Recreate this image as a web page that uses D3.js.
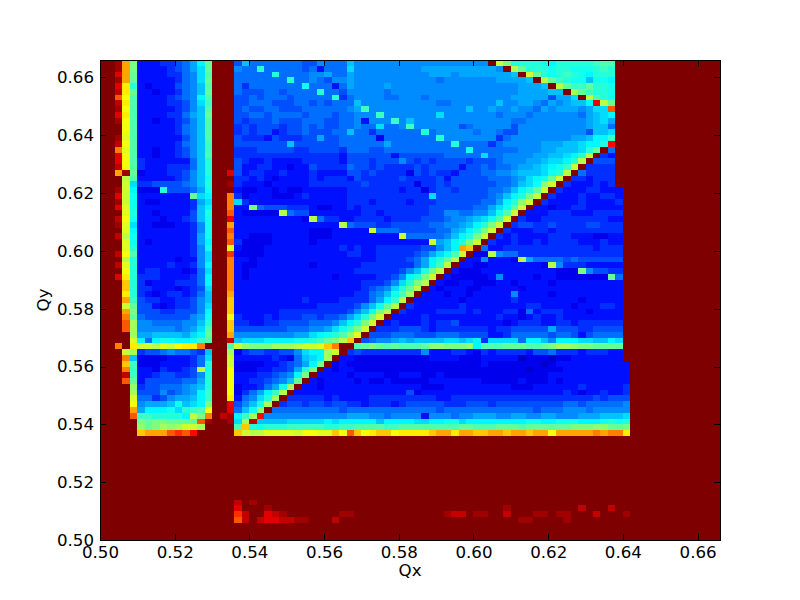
<!DOCTYPE html>
<html><head><meta charset="utf-8">
<script src="https://cdn.jsdelivr.net/npm/d3@7/dist/d3.min.js"></script>
<style>html,body{margin:0;padding:0;background:#fff}svg{display:block}</style>
</head><body><svg id="c" width="800" height="600"></svg>
<script>
const qxTicks=[0.50,0.52,0.54,0.56,0.58,0.60,0.62,0.64,0.66];
const qyTicks=[0.50,0.52,0.54,0.56,0.58,0.60,0.62,0.64,0.66];
const tuneLimits=[0.5,0.666];
const binWidth=0.002;
const jetStops=["#00007f","#0000ff","#007fff","#00ffff","#7fff7f","#ffff00","#ff7f00","#ff0000","#7f0000"];
const jetAt=[0,0.10,0.215,0.35,0.52,0.70,0.80,0.89,1];
// each row runs left to right, top row first; one base-36 digit per cell, 0 to z = 0 to 1
const qyRows=[
"zzyri44455679ch zzz 6a77777776 68777a8888 8888888888 8888zmieee edceeeeefg g",
"zzyri44445679bh zzz 877e777776 74777b8888 8888899999 999998zlhe eedeedddef e",
"zzwrh44445578bg zzz 77777e7777 8897798888 8888889998 9999999azm hedefedcee e",
"zzyrh44444578bh zzz 7777777e77 8768898888 8888888788 888889999a zlhfeddadd c",
"zzwpe43444678ag zzz 757777777d 7774798888 9888888888 8888888899 9azlhffhee d",
"zzxph44344578ah zzz 7666776777 7e77688888 7888888888 8888888899 99aazkhfee d",
"zztog44445678cg zzz 6676777677 777e578888 7788878888 8888888999 99699bzlge d",
"zzxpg44445568bf zzz 6677766677 676777a888 8888888778 88888a8899 87989aacwl h",
"zzyog44444568ag zzz 6766776667 7777789f88 8888888888 8a88988988 79899989bb t",
"zzwpg44445579ah zzz 6677677776 777677888f 8888888b88 8888878887 88888879ab c",
"zzyog44344568ag zzz 6566676667 7766778488 8f8a888888 8888888778 88888889ab 9",
"zzzog44444578ag zzz 5656665667 676677877b 778f888888 6788888688 88888889aa 7",
"zzzog44444578ag zzz 5656645667 66677a7757 77777e7888 8878876688 88888886aa b",
"zzyng44444468ag zzz 6555465556 6966777773 7777777e88 8888857888 8888899acc f",
"zzxog44444578af zzz 6666666a66 6666777777 977777777e 7777578888 8999aabcce v",
"zzsng44344568af zzz 5556666655 6666577766 7777777777 7d77777788 899aaabehz 7",
"zzwog44344568ag zzz 5555555555 5555466666 6466666677 777b778888 99aabcelz5 4",
"zzwog54444447ae zzz 6544544445 5555466656 6686565666 6566678889 9abbcelz66 6",
"zzxog54445557ae zzz 6445544344 6555576656 5555656666 4667677899 abcdfmz555 5",
"zzryh34445568ae zzw 6455445444 5444466565 5553656554 66677889aa abdelz7555 5",
"zzzlg44444568ad zzz 5545434444 5455546555 5565555646 666677789b cdhmz55455 5",
"zzzmb55666678ae zzy 5444344444 5555555655 5555355656 66666778ab djmz544454 5",
"zzymc333e66679d zzz 4334434334 4444455555 5545535665 6666778ace hmz5444554 44",
"zzwmd4444444hbc zzs 5344433345 4444455555 555555b666 666678acei mz54445445 54",
"zzymd433444459b zzs b544444444 4444455545 5554555666 666779cejm z544445444 45",
"zzwnd44444445ac zzs 44i7666555 4334454555 5555556666 66779bdhmz 4434455444 44",
"zzzne44344446ae zzt 433333l766 4444444554 5555556688 7788adgmz4 4455544455 55",
"zzxod4443445 6ad zzw 4444444443 l755445555 4555566678 89abdgmz54 4555555555 44",
"zzynb4433344 58d zzr 4444444444 4444l76665 5666667788 9aceimz566 5565555665 55",
"zzznc4444444 58d zzt 4444444444 33344444m7 7766666779 aceimz5444 5545555555 55",
"zzxld4444444 59d zzs 4433344444 3334444444 44m777778a ceimz54544 4455544433 44",
"zzznd4344444 59c zzt 5333344444 3444444444 444444m9ac eimz544544 5455554445 44",
"zzzne4444444 58d zzn 4333444444 4444545445 5555566 8ac rqz7445555 5555555545 55",
"zzxog4444444 58b zzu 3333444444 4444455445 5555679bdg mz33l87755 5555555555 55",
"zzzle4444434 48b zzs 4434444444 4444444445 555679cehl z4484443l9 7777676666 66",
"zzxne4444544 58c zzs 4334444444 3444444555 555579cflz 4433444444 43l8555444 44",
"zzzoe4554443 47b zzs 4344444444 4444445555 5568aeilz4 3334444444 444333i866 55",
"zzwpe5554444 57c zzs 4344444444 4443444445 568ceimz43 3333484444 3443333333 h7",
"zzzqe5344455 57c zzs 4444444444 4444444555 68beilz433 4433344344 4434444444 44",
"zzzqe5544434 56b zzs 4444444444 4444444567 8behlz4344 4334444434 4444444444 44",
"zzzpe5434554 57a zzr 4444444444 4444445578 adgkz44434 4344444844 4434444444 44",
"zzzrf6554455 68a zzq 4444444445 4444555579 cflz444444 3444444544 4444443444 44",
"zzzmh6643455 68b zzq 4444444444 45555568ad hlz5444444 5444444445 5444434445 54",
"zzzri6665566 68c zzq 4444445555 5555568adi lz54444555 5454445537 4555444344 44",
"zzzsh7666666 89d zzo 5444545556 656679beim z444454444 4444454434 5445444444 44",
"zzztk8877778 8ae zzq 5544556666 7778aceimz 4544454556 4444443455 5445545555 55",
"zzztk8888878 9bg zzq 6666666777 889bdfimz5 5566654555 5555455666 6696665566 66",
"zzzzk99aaaa9 bch zzr 8888888899 bcdegjnz66 6777666777 6666445777 7767764677 77",
"zzzznc7cddccdfg zzx abbbccccdd efhilqz678 89a9aaaabb abc5bbbb7c ca8cccbbaa cb",
"zzszpmmlnmoppsz zzg mjiiikkklm mnqszzghih ghggghjjii ijcggghhhg ghikkjiihh hh",
"zzzmk5667877 65a zzk 356655668b cckmz56555 5555584445 5435455554 6675554555 44",
"zzzsa3333444 57b zzm 444445437a bckz443333 3333334444 3334444423 3323344444 44",
"zzzqf3334444 57e zzm 3333445679 ciz3433333 3333333333 3334333333 3234444444 444",
"zzzsf4435445 6ld zzo 333445569e iz43443333 3333333333 3333333332 3333444444 444",
"zzzxf4456655 68e zzo 44455678ci z444434444 3344433433 3333333333 3344444444 444",
"zzzth4666667 79e zzo 4455678ahz 4344443433 4333334444 4443333343 3343444444 444",
"zzzzj5667778 9ae zzo 344579dkz4 4344444444 4444433344 4444444333 4444445444 445",
"zzzzk6668678 9cf zzo 3579cflz44 4444444444 4446344444 4444444444 4444543445 445",
"zzzzn7756899 acf zzp 478bekz555 5545444455 5555555445 5555555555 5555555565 666",
"zzzzo8999adabci zzw 68adkz5665 6656655455 5456666655 5666566666 6666776777 778",
"zzzzr9cccdbefgo zzw 7adjz77777 7777677777 7777777677 7777777777 6777888788 888",
"zzzztffeeeeclis zxy cfkv888888 8888899988 7888848887 8899988998 899888999a aab",
"zzzzzihiihhhhty zzy bkxaaaabbb bbcbccccca ccccbbccdd bccccccccd dccdddcccd ede",
"zzzzzjhikjkmmkz zzz gqedeeefff ffeeffgggg ffgggggggg hhggghhhgh hhhhhiiijj hhi",
"zzzzzqrrrtutvzz zzz qmllnnnnmo onnqotqopq qoppppqrrp rrqqrrqrrq rrorrrrrsr ssp",
"","","","","","","","","","","",
"zzzzzzzzzzzzzzz zzz xzyzzzzzzz",
"zzzzzzzzzzzzzzz zzz wzzzyzzzzz zzzzzzzzzz zzzzzzzzzz zzzzzzyzzz zzzzzzxzzz xzz",
"zzzzzzzzzzzzzzz zzz uxzzwxyzzz zzzzyyzzzz zzzzzzzzyx xzyyzzxzzz yyzyyzzzxz zzy",
"zzzzzzzzzzzzzzz zzz txzxwwxxyy zzzxzzzzzz zzzzzzzzzz zzzzzzzzyy zzzzyzzzzz",
"","",""
];
const xLabel="Qx", yLabel="Qy";

const svg=d3.select("#c");
const x=d3.scaleLinear().domain(tuneLimits).range([100,720]);
const y=d3.scaleLinear().domain(tuneLimits).range([540,60]);
const jet=d3.scaleLinear().domain(jetAt).range(jetStops).interpolate(d3.interpolateRgb).clamp(true);
const nRows=qyRows.length;
const cells=[];
qyRows.forEach((row,j)=>{
  const s=row.replace(/ /g,"").padEnd(nRows,"z");
  for(let i=0;i<nRows;i++){
    cells.push({qx:tuneLimits[0]+i*binWidth,qy:tuneLimits[0]+(nRows-1-j)*binWidth,v:parseInt(s[i],36)/35});
  }
});
svg.append("g").attr("shape-rendering","crispEdges").selectAll("rect").data(cells).join("rect")
  .attr("x",d=>x(d.qx)).attr("y",d=>y(d.qy+binWidth))
  .attr("width",d=>x(d.qx+binWidth)-x(d.qx)+0.5).attr("height",d=>y(d.qy)-y(d.qy+binWidth)+0.5)
  .attr("fill",d=>jet(d.v));
svg.append("rect").attr("x",100.5).attr("y",60.5).attr("width",620).attr("height",480)
  .attr("fill","none").attr("stroke","#000").attr("stroke-width",1);
const fs="16.67px";
const font="'DejaVu Sans'";
function style(g,labels){
  g.select(".domain").remove();
  g.selectAll(".tick line").attr("stroke","#000").attr("stroke-width",1).attr("shape-rendering","crispEdges");
  g.selectAll("text").attr("font-family",font).attr("font-size",fs).attr("fill","#000");
  if(!labels) g.selectAll("text").remove();
}
const fmt=d3.format(".2f");
svg.append("g").attr("transform","translate(0,540)")
  .call(d3.axisBottom(x).tickValues(qxTicks).tickFormat(fmt).tickSizeInner(-6).tickPadding(6)).call(g=>style(g,true));
svg.append("g").attr("transform","translate(0,60)")
  .call(d3.axisTop(x).tickValues(qxTicks).tickSizeInner(-6)).call(g=>style(g,false));
svg.append("g").attr("transform","translate(100,0)")
  .call(d3.axisLeft(y).tickValues(qyTicks).tickFormat(fmt).tickSizeInner(-6).tickPadding(6)).call(g=>style(g,true));
svg.append("g").attr("transform","translate(720,0)")
  .call(d3.axisRight(y).tickValues(qyTicks).tickSizeInner(-6)).call(g=>style(g,false));
svg.append("text").attr("x",410).attr("y",576).attr("text-anchor","middle")
  .attr("font-family",font).attr("font-size",fs).text(xLabel);
svg.append("text").attr("transform","translate(49,300) rotate(-90)").attr("text-anchor","middle")
  .attr("font-family",font).attr("font-size",fs).text(yLabel);
</script></body></html>
